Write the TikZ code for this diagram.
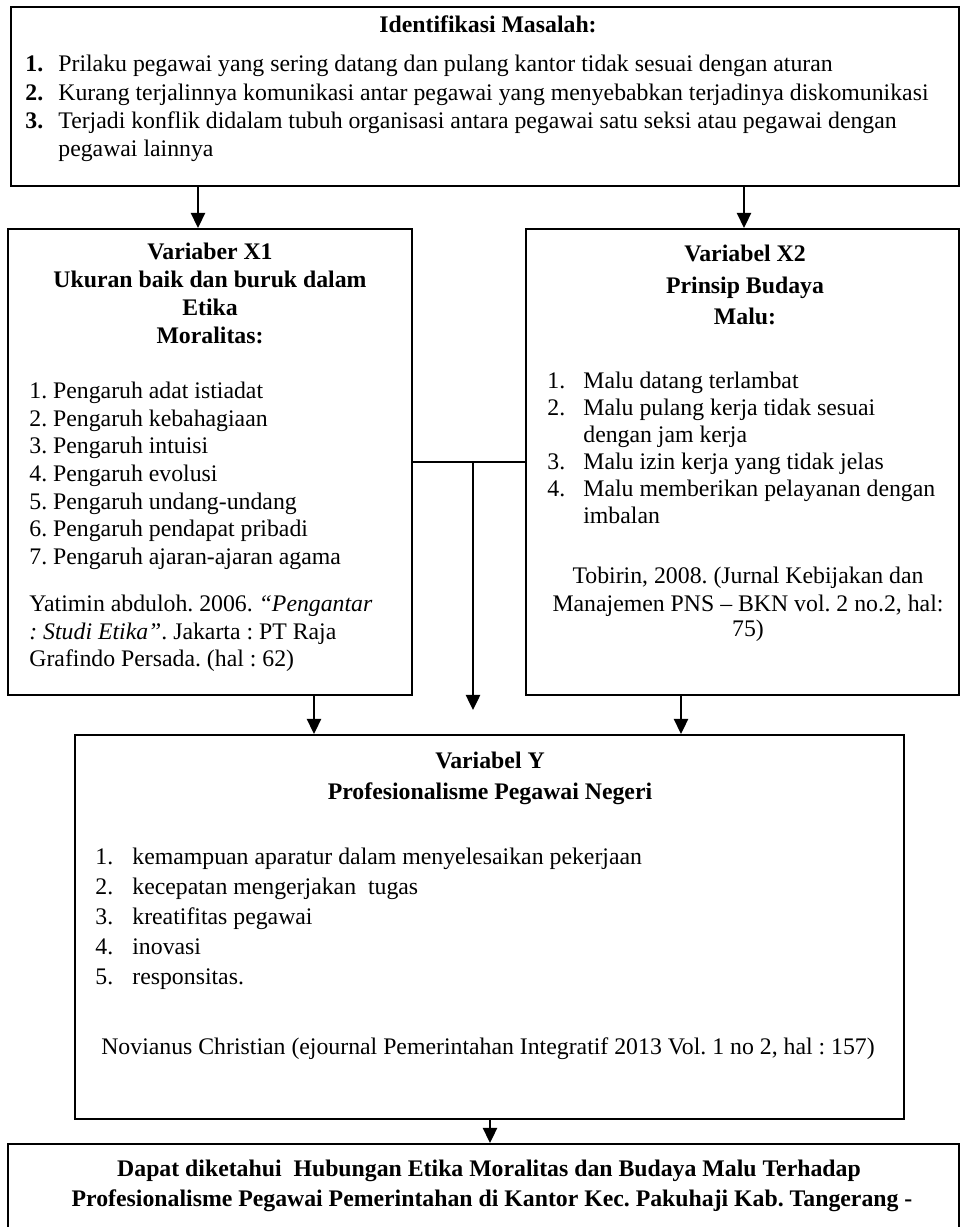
\documentclass[tikz,border=0pt]{standalone}
\usepackage{fontspec}
\setmainfont{Liberation Serif}
\usetikzlibrary{arrows.meta,fit}
\begin{document}
\frenchspacing
\begin{tikzpicture}[x=0.53pt,y=-0.53pt,
 box/.style={draw,line width=1.1pt,inner sep=0pt,rectangle},
 arr/.style={line width=1.2pt,-{Triangle[length=8pt,width=7.5pt]}},
 conn/.style={line width=1.2pt},
 txt/.style={anchor=base west,inner sep=0pt,font=\fontsize{12.6}{14}\selectfont},
 ctxt/.style={anchor=base,inner sep=0pt,font=\fontsize{12.6}{14}\selectfont},
 hd/.style={anchor=base,inner sep=0pt,font=\fontsize{12.6}{14}\selectfont\bfseries}]
\useasboundingbox (0,0) rectangle (961,1227);
\clip (0,0) rectangle (961,1227);
\fill[white] (0,0) rectangle (961,1227);
% boxes
\node[box, fit={(11,7) (959,186)}] (top) {};
\node[box, fit={(8,229) (412,695)}] (x1) {};
\node[box, fit={(526,229) (959,695)}] (x2) {};
\node[box, fit={(75,735) (904,1119)}] (y) {};
\node[box, fit={(8,1144) (959,1270)}] (res) {};
% top text
\node[hd] (t0) at (488,32) {Identifikasi Masalah:};
\node[txt] (t1n) at (25,71) {\textbf{1.}};
\node[txt] (t1) at (58,71) {Prilaku pegawai yang sering datang dan pulang kantor tidak sesuai dengan aturan};
\node[txt] (t2n) at (25,100) {\textbf{2.}};
\node[txt] (t2) at (58,100) {Kurang terjalinnya komunikasi antar pegawai yang menyebabkan terjadinya diskomunikasi};
\node[txt] (t3n) at (25,128) {\textbf{3.}};
\node[txt] (t3) at (58,128) {Terjadi konflik didalam tubuh organisasi antara pegawai satu seksi atau pegawai dengan};
\node[txt] (t4) at (58,156) {pegawai lainnya};
% X1 text
\node[hd] (a0) at (210,259) {Variaber X1};
\node[hd] (a1) at (210,287) {Ukuran baik dan buruk dalam};
\node[hd] (a2) at (210,315) {Etika};
\node[hd] (a3) at (210,343) {Moralitas:};
\node[txt] (a4) at (29,398) {1. Pengaruh adat istiadat};
\node[txt] (a5) at (29,426) {2. Pengaruh kebahagiaan};
\node[txt] (a6) at (29,453) {3. Pengaruh intuisi};
\node[txt] (a7) at (29,481) {4. Pengaruh evolusi};
\node[txt] (a8) at (29,509) {5. Pengaruh undang-undang};
\node[txt] (a9) at (29,536) {6. Pengaruh pendapat pribadi};
\node[txt] (a10) at (29,564) {7. Pengaruh ajaran-ajaran agama};
\node[txt] (a11) at (29,611) {Yatimin abduloh. 2006. \textit{``Pengantar}};
\node[txt] (a12) at (29,639) {\textit{: Studi Etika''}. Jakarta : PT Raja};
\node[txt] (a13) at (29,666) {Grafindo Persada. (hal : 62)};
% X2 text
\node[hd] (b0) at (745,261) {Variabel X2};
\node[hd] (b1) at (745,293) {Prinsip Budaya};
\node[hd] (b2) at (745,324) {Malu:};
\node[txt] (b3n) at (547,388) {1.};
\node[txt] (b3) at (583,388) {Malu datang terlambat};
\node[txt] (b4n) at (547,415) {2.};
\node[txt] (b4) at (583,415) {Malu pulang kerja tidak sesuai};
\node[txt] (b5) at (583,442) {dengan jam kerja};
\node[txt] (b6n) at (547,469) {3.};
\node[txt] (b6) at (583,469) {Malu izin kerja yang tidak jelas};
\node[txt] (b7n) at (547,496) {4.};
\node[txt] (b7) at (583,496) {Malu memberikan pelayanan dengan};
\node[txt] (b8) at (583,523) {imbalan};
\node[ctxt] (b9) at (748,583) {Tobirin, 2008. (Jurnal Kebijakan dan};
\node[ctxt] (b10) at (748,611) {Manajemen PNS -- BKN vol. 2 no.2, hal:};
\node[ctxt] (b11) at (748,636) {75)};
% Y text
\node[hd] (c0) at (490,768) {Variabel Y};
\node[hd] (c1) at (490,799) {Profesionalisme Pegawai Negeri};
\node[txt] (c2n) at (95,864) {1.};
\node[txt] (c2) at (132,864) {kemampuan aparatur dalam menyelesaikan pekerjaan};
\node[txt] (c3n) at (95,894) {2.};
\node[txt] (c3) at (132,894) {kecepatan mengerjakan\ \ tugas};
\node[txt] (c4n) at (95,924) {3.};
\node[txt] (c4) at (132,924) {kreatifitas pegawai};
\node[txt] (c5n) at (95,954) {4.};
\node[txt] (c5) at (132,954) {inovasi};
\node[txt] (c6n) at (95,984) {5.};
\node[txt] (c6) at (132,984) {responsitas.};
\node[ctxt] (c7) at (488,1054) {Novianus Christian (ejournal Pemerintahan Integratif 2013 Vol. 1 no 2, hal : 157)};
% result text
\node[hd] (d0) at (489,1176) {Dapat diketahui\ \ Hubungan Etika Moralitas dan Budaya Malu Terhadap};
\node[hd] (d1) at (492,1206) {Profesionalisme Pegawai Pemerintahan di Kantor Kec. Pakuhaji Kab. Tangerang -};
% connectors
\coordinate (ca) at (198,0);
\coordinate (cb) at (744,0);
\coordinate (cc) at (314,0);
\coordinate (cd) at (681,0);
\coordinate (ce) at (490,0);
\coordinate (j) at (473,462);
\coordinate (je) at (473,710);
\draw[arr] (ca |- top.south) -- (ca |- x1.north);
\draw[arr] (cb |- top.south) -- (cb |- x2.north);
\draw[conn] (x1.east |- j) -- (x2.west |- j);
\draw[arr] (j) -- (je);
\draw[arr] (cc |- x1.south) -- (cc |- y.north);
\draw[arr] (cd |- x2.south) -- (cd |- y.north);
\draw[arr] (ce |- y.south) -- (ce |- res.north);
\end{tikzpicture}
\end{document}
